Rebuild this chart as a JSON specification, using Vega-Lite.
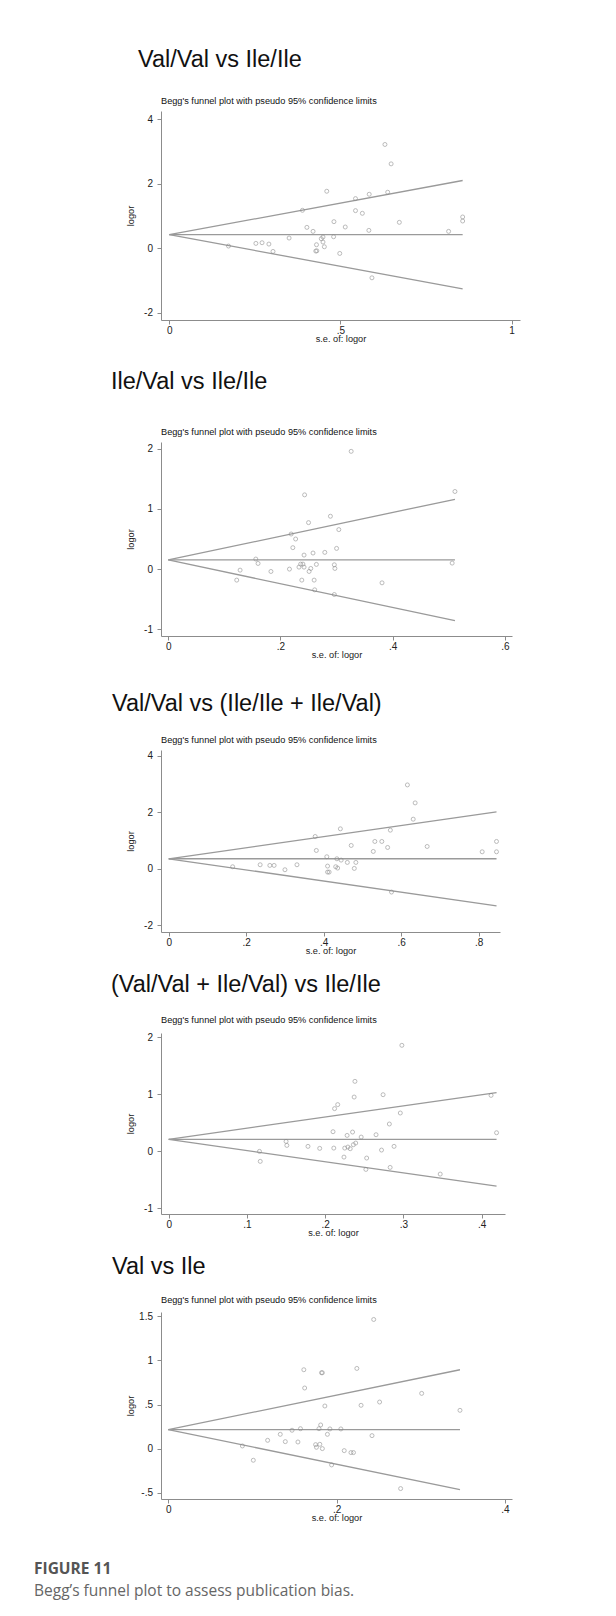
{
  "$schema": "https://vega.github.io/schema/vega-lite/v6.json",
  "background": "white",
  "padding": {"left": 34, "top": 47, "right": 5, "bottom": 5},
  "datasets": {
    "fun": [
      {"panel": 1, "line": "mid", "se": 0, "logor": 0.415}, {"panel": 1, "line": "mid", "se": 0.857, "logor": 0.415},
      {"panel": 1, "line": "upper", "se": 0, "logor": 0.415}, {"panel": 1, "line": "upper", "se": 0.857, "logor": 2.095},
      {"panel": 1, "line": "lower", "se": 0, "logor": 0.415}, {"panel": 1, "line": "lower", "se": 0.857, "logor": -1.265},
      {"panel": 2, "line": "mid", "se": 0, "logor": 0.152}, {"panel": 2, "line": "mid", "se": 0.511, "logor": 0.152},
      {"panel": 2, "line": "upper", "se": 0, "logor": 0.152}, {"panel": 2, "line": "upper", "se": 0.511, "logor": 1.16},
      {"panel": 2, "line": "lower", "se": 0, "logor": 0.152}, {"panel": 2, "line": "lower", "se": 0.511, "logor": -0.855},
      {"panel": 3, "line": "mid", "se": 0, "logor": 0.353}, {"panel": 3, "line": "mid", "se": 0.846, "logor": 0.353},
      {"panel": 3, "line": "upper", "se": 0, "logor": 0.353}, {"panel": 3, "line": "upper", "se": 0.846, "logor": 2.01},
      {"panel": 3, "line": "lower", "se": 0, "logor": 0.353}, {"panel": 3, "line": "lower", "se": 0.846, "logor": -1.31},
      {"panel": 4, "line": "mid", "se": 0, "logor": 0.211}, {"panel": 4, "line": "mid", "se": 0.419, "logor": 0.211},
      {"panel": 4, "line": "upper", "se": 0, "logor": 0.211}, {"panel": 4, "line": "upper", "se": 0.419, "logor": 1.03},
      {"panel": 4, "line": "lower", "se": 0, "logor": 0.211}, {"panel": 4, "line": "lower", "se": 0.419, "logor": -0.61},
      {"panel": 5, "line": "mid", "se": 0, "logor": 0.215}, {"panel": 5, "line": "mid", "se": 0.3465, "logor": 0.215},
      {"panel": 5, "line": "upper", "se": 0, "logor": 0.215}, {"panel": 5, "line": "upper", "se": 0.3465, "logor": 0.894},
      {"panel": 5, "line": "lower", "se": 0, "logor": 0.215}, {"panel": 5, "line": "lower", "se": 0.3465, "logor": -0.465}
    ],
    "pts": [
      {"panel": 1, "se": 0.173, "logor": 0.062}, {"panel": 1, "se": 0.253, "logor": 0.145}, {"panel": 1, "se": 0.271, "logor": 0.166},
      {"panel": 1, "se": 0.291, "logor": 0.124}, {"panel": 1, "se": 0.303, "logor": -0.104}, {"panel": 1, "se": 0.35, "logor": 0.311},
      {"panel": 1, "se": 0.389, "logor": 1.171}, {"panel": 1, "se": 0.402, "logor": 0.642}, {"panel": 1, "se": 0.42, "logor": 0.518},
      {"panel": 1, "se": 0.43, "logor": 0.104}, {"panel": 1, "se": 0.428, "logor": -0.093}, {"panel": 1, "se": 0.431, "logor": -0.085},
      {"panel": 1, "se": 0.444, "logor": 0.29}, {"panel": 1, "se": 0.449, "logor": 0.342}, {"panel": 1, "se": 0.449, "logor": 0.187},
      {"panel": 1, "se": 0.453, "logor": 0.041}, {"panel": 1, "se": 0.46, "logor": 1.762}, {"panel": 1, "se": 0.48, "logor": 0.352},
      {"panel": 1, "se": 0.481, "logor": 0.819}, {"panel": 1, "se": 0.498, "logor": -0.166}, {"panel": 1, "se": 0.514, "logor": 0.653},
      {"panel": 1, "se": 0.544, "logor": 1.534}, {"panel": 1, "se": 0.544, "logor": 1.161}, {"panel": 1, "se": 0.564, "logor": 1.078},
      {"panel": 1, "se": 0.584, "logor": 1.668}, {"panel": 1, "se": 0.583, "logor": 0.549}, {"panel": 1, "se": 0.592, "logor": -0.922},
      {"panel": 1, "se": 0.63, "logor": 3.212}, {"panel": 1, "se": 0.638, "logor": 1.731}, {"panel": 1, "se": 0.648, "logor": 2.611},
      {"panel": 1, "se": 0.672, "logor": 0.798}, {"panel": 1, "se": 0.816, "logor": 0.518}, {"panel": 1, "se": 0.857, "logor": 0.964},
      {"panel": 1, "se": 0.857, "logor": 0.839},
      {"panel": 2, "se": 0.122, "logor": -0.183}, {"panel": 2, "se": 0.128, "logor": -0.017}, {"panel": 2, "se": 0.156, "logor": 0.167},
      {"panel": 2, "se": 0.16, "logor": 0.094}, {"panel": 2, "se": 0.183, "logor": -0.039}, {"panel": 2, "se": 0.216, "logor": 0.0},
      {"panel": 2, "se": 0.219, "logor": 0.583}, {"panel": 2, "se": 0.222, "logor": 0.356}, {"panel": 2, "se": 0.227, "logor": 0.5},
      {"panel": 2, "se": 0.233, "logor": 0.033}, {"panel": 2, "se": 0.236, "logor": 0.083}, {"panel": 2, "se": 0.238, "logor": -0.183},
      {"panel": 2, "se": 0.24, "logor": 0.083}, {"panel": 2, "se": 0.242, "logor": 0.033}, {"panel": 2, "se": 0.242, "logor": 0.233},
      {"panel": 2, "se": 0.243, "logor": 1.233}, {"panel": 2, "se": 0.25, "logor": 0.772}, {"panel": 2, "se": 0.251, "logor": -0.039},
      {"panel": 2, "se": 0.254, "logor": 0.011}, {"panel": 2, "se": 0.258, "logor": 0.267}, {"panel": 2, "se": 0.26, "logor": -0.183},
      {"panel": 2, "se": 0.261, "logor": -0.344}, {"panel": 2, "se": 0.264, "logor": 0.078}, {"panel": 2, "se": 0.279, "logor": 0.278},
      {"panel": 2, "se": 0.289, "logor": 0.878}, {"panel": 2, "se": 0.296, "logor": 0.072}, {"panel": 2, "se": 0.296, "logor": -0.422},
      {"panel": 2, "se": 0.297, "logor": 0.011}, {"panel": 2, "se": 0.3, "logor": 0.344}, {"panel": 2, "se": 0.304, "logor": 0.656},
      {"panel": 2, "se": 0.326, "logor": 1.956}, {"panel": 2, "se": 0.381, "logor": -0.228}, {"panel": 2, "se": 0.506, "logor": 0.1},
      {"panel": 2, "se": 0.511, "logor": 1.289},
      {"panel": 3, "se": 0.165, "logor": 0.071}, {"panel": 3, "se": 0.236, "logor": 0.141}, {"panel": 3, "se": 0.261, "logor": 0.118},
      {"panel": 3, "se": 0.272, "logor": 0.118}, {"panel": 3, "se": 0.3, "logor": -0.035}, {"panel": 3, "se": 0.331, "logor": 0.141},
      {"panel": 3, "se": 0.378, "logor": 1.141}, {"panel": 3, "se": 0.381, "logor": 0.647}, {"panel": 3, "se": 0.408, "logor": 0.424},
      {"panel": 3, "se": 0.41, "logor": 0.094}, {"panel": 3, "se": 0.41, "logor": -0.118}, {"panel": 3, "se": 0.414, "logor": -0.118},
      {"panel": 3, "se": 0.434, "logor": 0.353}, {"panel": 3, "se": 0.431, "logor": 0.071}, {"panel": 3, "se": 0.436, "logor": 0.024},
      {"panel": 3, "se": 0.443, "logor": 1.412}, {"panel": 3, "se": 0.445, "logor": 0.306}, {"panel": 3, "se": 0.461, "logor": 0.224},
      {"panel": 3, "se": 0.471, "logor": 0.824}, {"panel": 3, "se": 0.479, "logor": 0.012}, {"panel": 3, "se": 0.483, "logor": 0.224},
      {"panel": 3, "se": 0.528, "logor": 0.612}, {"panel": 3, "se": 0.532, "logor": 0.965}, {"panel": 3, "se": 0.55, "logor": 0.965},
      {"panel": 3, "se": 0.565, "logor": 0.753}, {"panel": 3, "se": 0.572, "logor": 1.365}, {"panel": 3, "se": 0.575, "logor": -0.824},
      {"panel": 3, "se": 0.616, "logor": 2.965}, {"panel": 3, "se": 0.631, "logor": 1.753}, {"panel": 3, "se": 0.636, "logor": 2.329},
      {"panel": 3, "se": 0.667, "logor": 0.788}, {"panel": 3, "se": 0.809, "logor": 0.6}, {"panel": 3, "se": 0.846, "logor": 0.965},
      {"panel": 3, "se": 0.846, "logor": 0.6},
      {"panel": 4, "se": 0.116, "logor": 0.0}, {"panel": 4, "se": 0.117, "logor": -0.175}, {"panel": 4, "se": 0.15, "logor": 0.175},
      {"panel": 4, "se": 0.151, "logor": 0.105}, {"panel": 4, "se": 0.178, "logor": 0.088}, {"panel": 4, "se": 0.193, "logor": 0.053},
      {"panel": 4, "se": 0.21, "logor": 0.345}, {"panel": 4, "se": 0.211, "logor": 0.058}, {"panel": 4, "se": 0.212, "logor": 0.75},
      {"panel": 4, "se": 0.216, "logor": 0.82}, {"panel": 4, "se": 0.224, "logor": -0.1}, {"panel": 4, "se": 0.225, "logor": 0.058},
      {"panel": 4, "se": 0.228, "logor": 0.28}, {"panel": 4, "se": 0.229, "logor": 0.076}, {"panel": 4, "se": 0.232, "logor": 0.047},
      {"panel": 4, "se": 0.235, "logor": 0.339}, {"panel": 4, "se": 0.236, "logor": 0.117}, {"panel": 4, "se": 0.237, "logor": 0.953},
      {"panel": 4, "se": 0.238, "logor": 1.228}, {"panel": 4, "se": 0.239, "logor": 0.146}, {"panel": 4, "se": 0.246, "logor": 0.251},
      {"panel": 4, "se": 0.252, "logor": -0.316}, {"panel": 4, "se": 0.253, "logor": -0.117}, {"panel": 4, "se": 0.265, "logor": 0.292},
      {"panel": 4, "se": 0.272, "logor": 0.023}, {"panel": 4, "se": 0.274, "logor": 0.994}, {"panel": 4, "se": 0.282, "logor": 0.48},
      {"panel": 4, "se": 0.283, "logor": -0.281}, {"panel": 4, "se": 0.288, "logor": 0.088}, {"panel": 4, "se": 0.296, "logor": 0.673},
      {"panel": 4, "se": 0.298, "logor": 1.86}, {"panel": 4, "se": 0.347, "logor": -0.398}, {"panel": 4, "se": 0.412, "logor": 0.982},
      {"panel": 4, "se": 0.419, "logor": 0.327},
      {"panel": 5, "se": 0.088, "logor": 0.03}, {"panel": 5, "se": 0.101, "logor": -0.132}, {"panel": 5, "se": 0.118, "logor": 0.094},
      {"panel": 5, "se": 0.133, "logor": 0.162}, {"panel": 5, "se": 0.139, "logor": 0.079}, {"panel": 5, "se": 0.147, "logor": 0.208},
      {"panel": 5, "se": 0.154, "logor": 0.075}, {"panel": 5, "se": 0.157, "logor": 0.226}, {"panel": 5, "se": 0.161, "logor": 0.894},
      {"panel": 5, "se": 0.162, "logor": 0.687}, {"panel": 5, "se": 0.175, "logor": 0.045}, {"panel": 5, "se": 0.176, "logor": 0.015},
      {"panel": 5, "se": 0.179, "logor": 0.226}, {"panel": 5, "se": 0.18, "logor": 0.049}, {"panel": 5, "se": 0.181, "logor": 0.268},
      {"panel": 5, "se": 0.182, "logor": 0.86}, {"panel": 5, "se": 0.183, "logor": 0.86}, {"panel": 5, "se": 0.183, "logor": 0.0},
      {"panel": 5, "se": 0.186, "logor": 0.483}, {"panel": 5, "se": 0.189, "logor": 0.162}, {"panel": 5, "se": 0.192, "logor": 0.223},
      {"panel": 5, "se": 0.194, "logor": -0.185}, {"panel": 5, "se": 0.205, "logor": 0.223}, {"panel": 5, "se": 0.209, "logor": -0.023},
      {"panel": 5, "se": 0.217, "logor": -0.045}, {"panel": 5, "se": 0.22, "logor": -0.045}, {"panel": 5, "se": 0.224, "logor": 0.909},
      {"panel": 5, "se": 0.229, "logor": 0.491}, {"panel": 5, "se": 0.242, "logor": 0.147}, {"panel": 5, "se": 0.244, "logor": 1.464},
      {"panel": 5, "se": 0.251, "logor": 0.528}, {"panel": 5, "se": 0.276, "logor": -0.453}, {"panel": 5, "se": 0.301, "logor": 0.626},
      {"panel": 5, "se": 0.3465, "logor": 0.434}
    ]
  },
  "title": {
    "text": "FIGURE 11",
    "subtitle": "Begg’s funnel plot to assess publication bias.",
    "orient": "bottom",
    "anchor": "start",
    "frame": "group",
    "dx": -127,
    "offset": 40,
    "font": "Open Sans",
    "fontSize": 15.5,
    "fontWeight": "bold",
    "color": "#555555",
    "subtitleFont": "Open Sans",
    "subtitleFontSize": 15.5,
    "subtitleColor": "#666666",
    "subtitlePadding": 6
  },
  "spacing": 26,
  "vconcat": [
    {
      "title": {"text": "Val/Val vs Ile/Ile", "fontSize": 23.5, "dx": -23, "offset": 25.5},
      "vconcat": [
        {
          "title": {"text": "Begg's funnel plot with pseudo 95% confidence limits", "fontSize": 9.2, "offset": 5},
          "width": 359, "height": 209,
          "layer": [
            {"data": {"name": "fun"}, "transform": [{"filter": "datum.panel == 1"}],
             "mark": {"type": "line", "color": "#9a9a9a", "strokeWidth": 1.3},
             "encoding": {
               "x": {"field": "se", "type": "quantitative", "scale": {"domain": [-0.0242, 1.0245], "nice": false, "zero": false},
                     "axis": {"values": [0, 0.5, 1], "title": "s.e. of: logor", "labelExpr": "replace(toString(datum.value), '0.', '.')"}},
               "y": {"field": "logor", "type": "quantitative", "scale": {"domain": [-2.23, 4.25], "nice": false, "zero": false},
                     "axis": {"values": [-2, 0, 2, 4], "title": "logor", "labelExpr": "replace(toString(datum.value), '0.', '.')"}},
               "detail": {"field": "line"}
             }},
            {"data": {"name": "pts"}, "transform": [{"filter": "datum.panel == 1"}],
             "mark": {"type": "point", "shape": "circle", "filled": false, "color": "#888888", "size": 16, "strokeWidth": 0.8},
             "encoding": {
               "x": {"field": "se", "type": "quantitative"},
               "y": {"field": "logor", "type": "quantitative"}
             }}
          ]
        }
      ]
    },
    {
      "spacing": 31,
      "vconcat": [
        {
          "title": {"text": "Ile/Val vs Ile/Ile", "fontSize": 23.5, "dx": -50, "offset": 34},
          "vconcat": [
            {
              "title": {"text": "Begg's funnel plot with pseudo 95% confidence limits", "fontSize": 9.2, "offset": 5},
              "width": 351, "height": 194,
              "layer": [
                {"data": {"name": "fun"}, "transform": [{"filter": "datum.panel == 2"}],
                 "mark": {"type": "line", "color": "#9a9a9a", "strokeWidth": 1.3},
                 "encoding": {
                   "x": {"field": "se", "type": "quantitative", "scale": {"domain": [-0.013, 0.6127], "nice": false, "zero": false},
                         "axis": {"values": [0, 0.2, 0.4, 0.6], "title": "s.e. of: logor", "labelExpr": "replace(toString(datum.value), '0.', '.')"}},
                   "y": {"field": "logor", "type": "quantitative", "scale": {"domain": [-1.111, 2.111], "nice": false, "zero": false},
                         "axis": {"values": [-1, 0, 1, 2], "title": "logor", "labelExpr": "replace(toString(datum.value), '0.', '.')"}},
                   "detail": {"field": "line"}
                 }},
                {"data": {"name": "pts"}, "transform": [{"filter": "datum.panel == 2"}],
                 "mark": {"type": "point", "shape": "circle", "filled": false, "color": "#888888", "size": 16, "strokeWidth": 0.8},
                 "encoding": {
                   "x": {"field": "se", "type": "quantitative"},
                   "y": {"field": "logor", "type": "quantitative"}
                 }}
              ]
            }
          ]
        },
        {
          "spacing": 17,
          "vconcat": [
            {
              "title": {"text": "Val/Val vs (Ile/Ile + Ile/Val)", "fontSize": 23.5, "dx": -49, "offset": 21},
              "vconcat": [
                {
                  "title": {"text": "Begg's funnel plot with pseudo 95% confidence limits", "fontSize": 9.2, "offset": 4.5},
                  "width": 339, "height": 182,
                  "layer": [
                    {"data": {"name": "fun"}, "transform": [{"filter": "datum.panel == 3"}],
                     "mark": {"type": "line", "color": "#9a9a9a", "strokeWidth": 1.3},
                     "encoding": {
                       "x": {"field": "se", "type": "quantitative", "scale": {"domain": [-0.0199, 0.855], "nice": false, "zero": false},
                             "axis": {"values": [0, 0.2, 0.4, 0.6, 0.8], "title": "s.e. of: logor", "labelExpr": "replace(toString(datum.value), '0.', '.')"}},
                       "y": {"field": "logor", "type": "quantitative", "scale": {"domain": [-2.237, 4.2], "nice": false, "zero": false},
                             "axis": {"values": [-2, 0, 2, 4], "title": "logor", "labelExpr": "replace(toString(datum.value), '0.', '.')"}},
                       "detail": {"field": "line"}
                     }},
                    {"data": {"name": "pts"}, "transform": [{"filter": "datum.panel == 3"}],
                     "mark": {"type": "point", "shape": "circle", "filled": false, "color": "#888888", "size": 16, "strokeWidth": 0.8},
                     "encoding": {
                       "x": {"field": "se", "type": "quantitative"},
                       "y": {"field": "logor", "type": "quantitative"}
                     }}
                  ]
                }
              ]
            },
            {
              "spacing": 16,
              "vconcat": [
                {
                  "title": {"text": "(Val/Val + Ile/Val) vs Ile/Ile", "fontSize": 23.5, "dx": -50, "offset": 19.5},
                  "vconcat": [
                    {
                      "title": {"text": "Begg's funnel plot with pseudo 95% confidence limits", "fontSize": 9.2, "offset": 7},
                      "width": 344, "height": 181,
                      "layer": [
                        {"data": {"name": "fun"}, "transform": [{"filter": "datum.panel == 4"}],
                         "mark": {"type": "line", "color": "#9a9a9a", "strokeWidth": 1.3},
                         "encoding": {
                           "x": {"field": "se", "type": "quantitative", "scale": {"domain": [-0.00984, 0.4298], "nice": false, "zero": false},
                                 "axis": {"values": [0, 0.1, 0.2, 0.3, 0.4], "title": "s.e. of: logor", "labelExpr": "replace(toString(datum.value), '0.', '.')"}},
                           "y": {"field": "logor", "type": "quantitative", "scale": {"domain": [-1.098, 2.076], "nice": false, "zero": false},
                                 "axis": {"values": [-1, 0, 1, 2], "title": "logor", "labelExpr": "replace(toString(datum.value), '0.', '.')"}},
                           "detail": {"field": "line"}
                         }},
                        {"data": {"name": "pts"}, "transform": [{"filter": "datum.panel == 4"}],
                         "mark": {"type": "point", "shape": "circle", "filled": false, "color": "#888888", "size": 16, "strokeWidth": 0.8},
                         "encoding": {
                           "x": {"field": "se", "type": "quantitative"},
                           "y": {"field": "logor", "type": "quantitative"}
                         }}
                      ]
                    }
                  ]
                },
                {
                  "title": {"text": "Val vs Ile", "fontSize": 23.5, "dx": -49, "offset": 18},
                  "vconcat": [
                    {
                      "title": {"text": "Begg's funnel plot with pseudo 95% confidence limits", "fontSize": 9.2, "offset": 6},
                      "width": 351, "height": 187,
                      "layer": [
                        {"data": {"name": "fun"}, "transform": [{"filter": "datum.panel == 5"}],
                         "mark": {"type": "line", "color": "#9a9a9a", "strokeWidth": 1.3},
                         "encoding": {
                           "x": {"field": "se", "type": "quantitative", "scale": {"domain": [-0.00867, 0.4083], "nice": false, "zero": false},
                                 "axis": {"values": [0, 0.2, 0.4], "title": "s.e. of: logor", "labelExpr": "replace(toString(datum.value), '0.', '.')"}},
                           "y": {"field": "logor", "type": "quantitative", "scale": {"domain": [-0.5713, 1.5487], "nice": false, "zero": false},
                                 "axis": {"values": [-0.5, 0, 0.5, 1, 1.5], "title": "logor", "labelExpr": "replace(toString(datum.value), '0.', '.')"}},
                           "detail": {"field": "line"}
                         }},
                        {"data": {"name": "pts"}, "transform": [{"filter": "datum.panel == 5"}],
                         "mark": {"type": "point", "shape": "circle", "filled": false, "color": "#888888", "size": 16, "strokeWidth": 0.8},
                         "encoding": {
                           "x": {"field": "se", "type": "quantitative"},
                           "y": {"field": "logor", "type": "quantitative"}
                         }}
                      ]
                    }
                  ]
                }
              ]
            }
          ]
        }
      ]
    }
  ],
  "config": {
    "view": {"stroke": null},
    "font": "Liberation Sans",
    "axis": {
      "grid": false,
      "domainColor": "#8c8c8c",
      "tickColor": "#8c8c8c",
      "tickSize": 4,
      "labelFont": "Liberation Sans",
      "labelFontSize": 10,
      "labelColor": "#222222",
      "labelFlush": false,
      "labelOverlap": false,
      "titleFont": "Liberation Sans",
      "titleFontSize": 9.2,
      "titleFontWeight": "normal",
      "titleColor": "#222222"
    },
    "axisX": {"labelPadding": 1, "titlePadding": -1, "labelAngle": 0},
    "axisY": {"labelPadding": 4.5, "titlePadding": 6, "minExtent": 20, "maxExtent": 20},
    "title": {"font": "Liberation Sans", "fontWeight": "normal", "color": "#111111", "anchor": "start", "frame": "group"}
  }
}
